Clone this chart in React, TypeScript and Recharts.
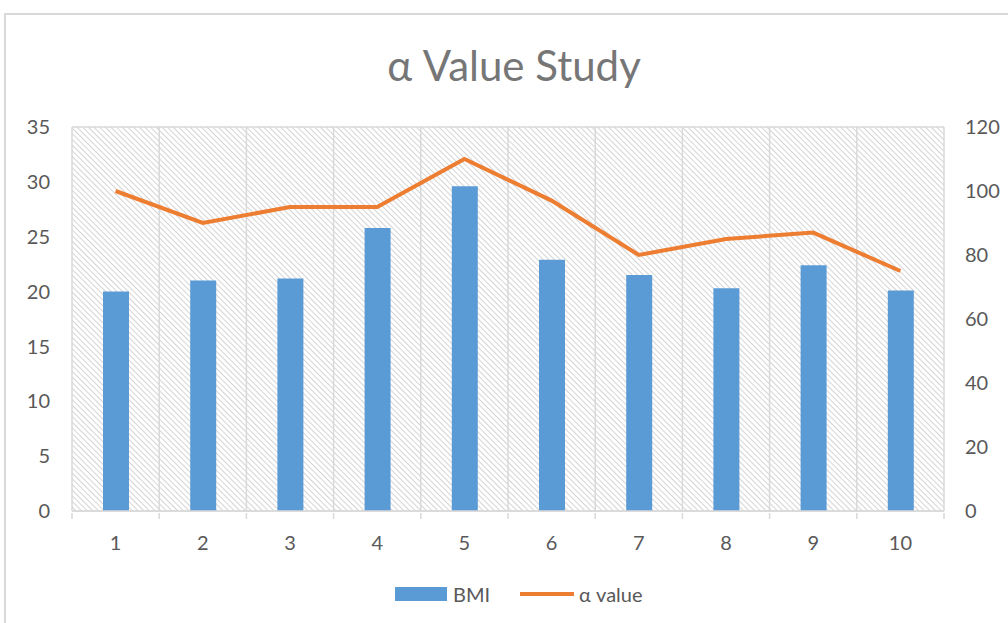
import React from "react";
import {
  ComposedChart,
  Bar,
  Line,
  XAxis,
  YAxis,
  CartesianGrid,
} from "recharts";

const categories = ["1", "2", "3", "4", "5", "6", "7", "8", "9", "10"];
const bmiValues = [20, 21, 21.2, 25.8, 29.6, 22.9, 21.5, 20.3, 22.4, 20.1];
const alphaValues = [100, 90, 95, 95, 110, 97, 80, 85, 87, 75];
const leftTicks = [0, 5, 10, 15, 20, 25, 30, 35];
const rightTicks = [0, 20, 40, 60, 80, 100, 120];

const data = categories.map((c, i) => ({
  name: c,
  bmi: bmiValues[i],
  alpha: alphaValues[i],
}));

const W = 1008;
const H = 623;
const PLOT_LEFT = 72;
const PLOT_RIGHT = 944;
const PLOT_TOP = 127;
const PLOT_BOTTOM = 511;
const X_AXIS_H = 30;
const BAND = (PLOT_RIGHT - PLOT_LEFT) / categories.length;
const TEXT = "#595959";
const GRID = "#d9d9d9";
const FONT = "Lato, 'Open Sans', sans-serif";

const XTick = (props: any) => {
  const { x, y, payload, index } = props;
  const half = BAND / 2;
  return (
    <g>
      <line x1={x - half} x2={x - half} y1={y} y2={y + 6} stroke={GRID} strokeWidth={1.5} />
      {index === categories.length - 1 && (
        <line x1={x + half} x2={x + half} y1={y} y2={y + 6} stroke={GRID} strokeWidth={1.5} />
      )}
      <text x={x} y={y + 37} textAnchor="middle" fill={TEXT} fontSize={20} fontFamily={FONT}>
        {payload.value}
      </text>
    </g>
  );
};

const verticalPoints = Array.from({ length: categories.length + 1 }, (_, i) => PLOT_LEFT + i * BAND);

export default function App() {
  return (
    <div style={{ position: "absolute", left: 0, top: 0, width: W, height: H, overflow: "hidden", background: "#fff" }}>
      <div
        style={{
          position: "absolute",
          left: 4,
          top: 13,
          width: W + 20,
          height: H + 20,
          boxSizing: "border-box",
          borderTop: "2px solid #d9d9d9",
          borderLeft: "2px solid #d9d9d9",
        }}
      />
      <div
        style={{
          position: "absolute",
          top: 37,
          left: 0,
          width: 1028,
          textAlign: "center",
          fontFamily: FONT,
          fontSize: 42,
          color: "#767676",
          lineHeight: "56px",
        }}
      >
        α Value Study
      </div>
      <div style={{ position: "absolute", left: 0, top: 0 }}>
        <ComposedChart
          width={W}
          height={H}
          data={data}
          margin={{ top: PLOT_TOP, bottom: H - PLOT_BOTTOM - X_AXIS_H, left: 12, right: 4 }}
        >
          <defs>
            <pattern id="hatch" width="4" height="4" patternUnits="userSpaceOnUse" patternTransform="rotate(-45)">
              <rect width="4" height="4" fill="#ffffff" />
              <line x1="0" y1="0" x2="0" y2="4" stroke="#d4d4d4" strokeWidth="2" />
            </pattern>
          </defs>
          <CartesianGrid
            fill="url(#hatch)"
            fillOpacity={1}
            stroke={GRID}
            strokeWidth={1.5}
            verticalPoints={verticalPoints}
          />
          <XAxis
            dataKey="name"
            height={X_AXIS_H}
            tick={<XTick />}
            tickLine={false}
            tickSize={0}
            axisLine={{ stroke: GRID, strokeWidth: 1.5 }}
            interval={0}
          />
          <YAxis
            yAxisId="left"
            orientation="left"
            width={60}
            domain={[0, 35]}
            ticks={leftTicks}
            tickLine={false}
            tickSize={0}
            tickMargin={22}
            axisLine={false}
            tick={{ fill: TEXT, fontSize: 20, fontFamily: FONT }}
          />
          <YAxis
            yAxisId="right"
            orientation="right"
            width={60}
            domain={[0, 120]}
            ticks={rightTicks}
            tickLine={false}
            tickSize={0}
            tickMargin={21}
            axisLine={false}
            tick={{ fill: TEXT, fontSize: 20, fontFamily: FONT, textAnchor: "start" }}
          />
          <Bar yAxisId="left" dataKey="bmi" fill="#5b9bd5" barSize={26} isAnimationActive={false} />
          <Line
            yAxisId="right"
            dataKey="alpha"
            stroke="#ed7d31"
            strokeWidth={4}
            dot={false}
            type="linear"
            isAnimationActive={false}
          />
        </ComposedChart>
      </div>
      <div
        style={{
          position: "absolute",
          top: 582,
          left: 395,
          display: "flex",
          alignItems: "center",
          fontFamily: FONT,
          fontSize: 20,
          color: TEXT,
        }}
      >
        <span style={{ display: "inline-block", width: 52, height: 14, background: "#5b9bd5", marginRight: 6 }} />
        <span>BMI</span>
        <span style={{ display: "inline-block", width: 54, height: 4, background: "#ed7d31", marginLeft: 30, marginRight: 5 }} />
        <span>α value</span>
      </div>
    </div>
  );
}
